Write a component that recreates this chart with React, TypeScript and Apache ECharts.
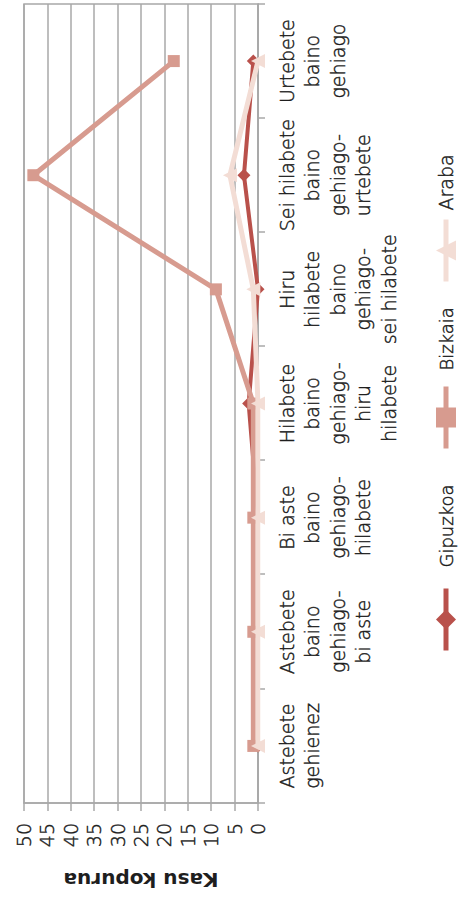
import React, { useEffect, useRef } from "react";
import * as echarts from "echarts";

const categories = [
  "Astebete\ngehienez",
  "Astebete\nbaino\ngehiago-\nbi aste",
  "Bi aste\nbaino\ngehiago-\nhilabete",
  "Hilabete\nbaino\ngehiago-\nhiru\nhilabete",
  "Hiru\nhilabete\nbaino\ngehiago-\nsei hilabete",
  "Sei hilabete\nbaino\ngehiago-\nurtebete",
  "Urtebete\nbaino\ngehiago",
];
const gipuzkoa = [0, 0, 0, 2, 0, 3, 1];
const bizkaia = [1, 1, 1, 1, 9, 48, 18];
const araba = [0, 0, 0, 0, 1, 6, 0];
const seriesNames = ["Gipuzkoa", "Bizkaia", "Araba"];
const axisTitle = "Kasu kopurua";

const FONT = "DejaVu Sans";
const GRID = "#a8a8a8";
const TEXT = "#1e1e1e";
const LIGHT = 200;
const thinText = {
  fontFamily: FONT,
  fontWeight: LIGHT,
  color: TEXT,
  textBorderColor: TEXT,
  textBorderWidth: 0.45,
};

export default function App() {
  const ref = useRef<HTMLDivElement>(null);
  useEffect(() => {
    if (!ref.current) return;
    const chart = echarts.init(ref.current, undefined, { renderer: "svg" });
    const colors = ["#b9514b", "#d79b8f", "#f3ddd5"];
    const symbols = ["diamond", "rect", "triangle"];
    const sizes = [13, 12, 14];
    const widths = [4, 5, 5];
    const data = [gipuzkoa, bizkaia, araba];
    const legendLefts = [245, 447, 614];
    const legendPads = [16, 11, 4];
    const legendFont = [18, 18, 19];
    chart.setOption({
      animation: false,
      grid: {
        left: 95,
        right: 4,
        top: 24,
        bottom: 200,
        show: true,
        borderColor: GRID,
        borderWidth: 1.5,
        backgroundColor: "transparent",
      },
      legend: seriesNames.map((name, i) => ({
        left: legendLefts[i],
        top: 436,
        padding: 0,
        itemWidth: 62,
        itemHeight: 25,
        data: [name],
        lineStyle: { width: 5 },
        textStyle: {
          ...thinText,
          fontSize: legendFont[i],
          padding: [0, 0, 0, legendPads[i]],
        },
      })),
      xAxis: {
        type: "category",
        data: categories,
        boundaryGap: true,
        axisLine: { show: true, lineStyle: { color: GRID, width: 1.5 } },
        axisTick: { show: true, length: 7, interval: 0, lineStyle: { color: GRID, width: 1.5 } },
        axisLabel: {
          ...thinText,
          interval: 0,
          margin: 16,
          fontSize: 19,
          lineHeight: 25.5,
          align: "center",
        },
      },
      yAxis: {
        type: "value",
        min: 0,
        max: 50,
        interval: 5,
        name: axisTitle,
        nameLocation: "middle",
        nameRotate: 90,
        nameGap: 67,
        nameTextStyle: { fontFamily: FONT, fontSize: 20, fontWeight: "bold", color: "#1e1e1e" },
        axisLine: { show: true, lineStyle: { color: GRID, width: 1.5 } },
        axisTick: { show: true, length: 8, lineStyle: { color: GRID, width: 1.5 } },
        axisLabel: { ...thinText, margin: 20, fontSize: 19 },
        splitLine: { show: true, lineStyle: { color: GRID, width: 1.5 } },
      },
      series: seriesNames.map((name, i) => ({
        name,
        type: "line",
        data: data[i],
        symbol: symbols[i],
        symbolSize: sizes[i],
        showAllSymbol: true,
        lineStyle: { color: colors[i], width: widths[i] },
        itemStyle: { color: colors[i] },
        z: 2 + i,
      })),
    });
    return () => chart.dispose();
  }, []);
  return (
    <div
      style={{
        position: "fixed",
        left: 0,
        top: 0,
        width: 458,
        height: 898,
        overflow: "hidden",
        background: "#fff",
      }}
    >
      <div
        ref={ref}
        style={{
          position: "absolute",
          left: 0,
          top: 0,
          width: 898,
          height: 458,
          transformOrigin: "0 0",
          transform: "translateY(898px) rotate(-90deg)",
        }}
      />
    </div>
  );
}
